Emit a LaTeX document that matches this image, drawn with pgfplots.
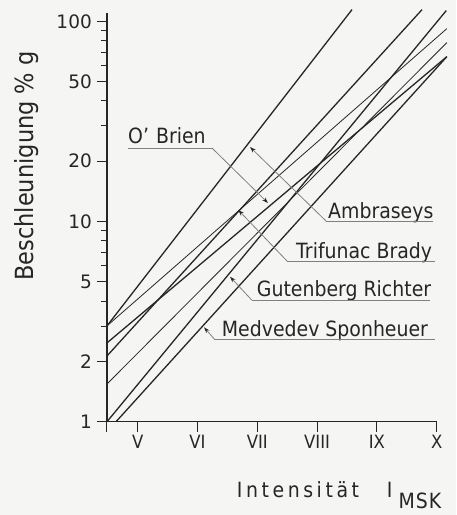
\documentclass[border=0pt]{standalone}
\usepackage{fontspec}
\setmainfont{DejaVu Sans}[FakeStretch=0.9]
\newfontfamily\tickfont{DejaVu Sans}
\usepackage{pgfplots}
\pgfplotsset{compat=1.18}
\usetikzlibrary{arrows.meta}
\definecolor{ink}{HTML}{262626}
\definecolor{lead}{HTML}{808080}
\definecolor{paper}{HTML}{F5F5F3}

\begin{document}
\begin{tikzpicture}
\path[use as bounding box, fill=paper] (0pt,0pt) rectangle (456pt,-515pt);
\begin{axis}[
  at={(107pt,-421.7pt)}, anchor=south west,
  scale only axis, width=329.7pt, height=408.7pt,
  xmin=4.487, xmax=10, ymode=log, ymin=1, ymax=110,
  axis x line=bottom, axis y line=left,
  axis line style={-, line width=1.1pt, draw=ink},
  clip=false,
  xtick={5,6,7,8,9,10}, xticklabels={V,VI,VII,VIII,IX,X},
  extra x ticks={4.487}, extra x tick labels={},
  ytick={1,2,5,10,20,50,100},
  yticklabels={{1},{2},{5},{10},{20},{50},{100}},
  minor ytick={3,4,6,7,8,9,30,40,60,70,80,90},
  tick align=outside, major tick length=10pt, minor tick length=6pt,
  tick style={line width=1pt, draw=ink},
  /pgf/number format/assume math mode=true,
  xticklabel style={font=\fontsize{18.3}{20}\selectfont, text=ink},
  yticklabel style={font=\fontsize{18.5}{20}\selectfont\tickfont, text=ink, inner xsep=1pt, xshift=-4pt},
]
% Ambraseys
\addplot[ink, line width=1.3pt] coordinates {(4.487,3.01) (8.584,114.4)};
% Trifunac Brady (thin)
\addplot[ink, line width=0.8pt] coordinates {(4.487,3.01) (10.17,91.9)};
% O'Brien
\addplot[ink, line width=1.3pt] coordinates {(4.487,2.475) (10.17,66.6)};
% unlabelled
\addplot[ink, line width=1.3pt] coordinates {(4.487,2.13) (9.755,114.4)};
\addplot[ink, line width=0.8pt] coordinates {(4.487,1.543) (10.17,78.3)};
% Gutenberg Richter
\addplot[ink, line width=1.3pt] coordinates {(4.487,1.0) (10.16,113.1)};
% Medvedev Sponheuer
\addplot[ink, line width=1.3pt] coordinates {(4.638,1.0) (10.17,66.6)};
\end{axis}

\tikzset{lbl/.style={anchor=base west, inner sep=0pt, font=\fontsize{21}{24}\selectfont, text=ink},
  ld/.style={lead, line width=0.8pt},
  la/.style={lead, line width=0.8pt, -{Stealth[length=6pt,width=4pt,color=ink]}}}

% O'Brien
\node[lbl] at (128pt,-143pt) {O'\,\,Brien};
\draw[ld] (128pt,-148pt) -- (212pt,-148pt);
\draw[la] (212pt,-148pt) -- (268pt,-203pt);
% Ambraseys
\node[lbl] at (328pt,-218pt) {Ambraseys};
\draw[ld] (326pt,-221pt) -- (433pt,-221pt);
\draw[la] (326pt,-221pt) -- (250pt,-147pt);
% Trifunac Brady
\node[lbl] at (296pt,-258pt) {Trifunac Brady};
\draw[ld] (287pt,-261pt) -- (435pt,-261pt);
\draw[la] (287pt,-261pt) -- (238.3pt,-210pt);
% Gutenberg Richter
\node[lbl] at (256.7pt,-296.7pt) {Gutenberg Richter};
\draw[ld] (251.7pt,-300pt) -- (430pt,-300pt);
\draw[la] (251.7pt,-300pt) -- (230pt,-276.7pt);
% Medvedev Sponheuer
\node[lbl] at (221.7pt,-336.8pt) {Medvedev Sponheuer};
\draw[ld] (215pt,-339.8pt) -- (435pt,-339.8pt);
\draw[la] (215pt,-339.8pt) -- (204pt,-327.3pt);

% axis labels
\node[rotate=90, anchor=base, inner sep=0pt, font=\fontsize{25}{28}\selectfont, text=ink] at (33pt,-166pt) {Beschleunigung \% g};
\node[lbl] at (236.7pt,-497pt) {\addfontfeature{LetterSpace=17}Intensität};
\node[lbl] at (386.7pt,-497pt) {I};
\node[lbl] at (398.3pt,-508.5pt) {\addfontfeature{LetterSpace=5}MSK};
\end{tikzpicture}
\end{document}
